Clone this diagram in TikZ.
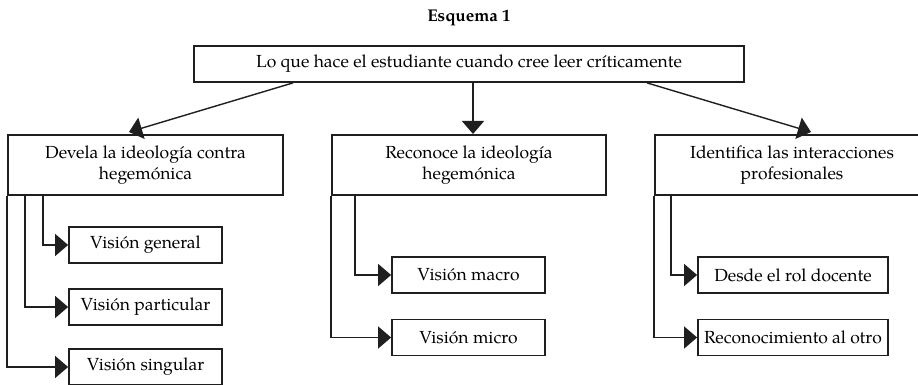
\documentclass[tikz,border=0pt]{standalone}
\usepackage{fontspec}
\setmainfont{TeX Gyre Pagella}
\usetikzlibrary{arrows.meta}
\begin{document}
\begin{tikzpicture}[x=1pt,y=-1pt,
  box/.style={draw=black!88, line width=1.8pt, inner sep=0pt, align=center, font=\fontsize{17.5}{21}\selectfont},
  conn/.style={draw=black!88, line width=1.4pt, -{Triangle[length=13pt,width=22pt]}},
]
\useasboundingbox (0,0) rectangle (918,385);
\clip (0,0) rectangle (918,385);
\fill[white] (0,0) rectangle (918,385);

\node[font=\bfseries\fontsize{17}{20}\selectfont] (title) at (469,18) {Esquema 1};
\node[box, minimum width=550pt, minimum height=36pt] (top) at (469,64) {Lo que hace el estudiante cuando cree leer críticamente};

\node[box, minimum width=275pt, minimum height=60pt] (L) at (145.5,165) {Devela la ideología contra\\hegemónica};
\node[box, minimum width=274pt, minimum height=60pt] (M) at (469,165) {Reconoce la ideología\\hegemónica};
\node[box, minimum width=274pt, minimum height=60pt] (R) at (792,165) {Identifica las interacciones\\profesionales};

\node[box, minimum width=153pt, minimum height=36pt] (l1) at (145.5,245) {Visión general};
\node[box, minimum width=153pt, minimum height=36pt] (l2) at (145.5,307) {Visión particular};
\node[box, minimum width=153pt, minimum height=36pt] (l3) at (145.5,367) {Visión singular};

\node[box, minimum width=153pt, minimum height=36pt] (m1) at (468.5,275) {Visión macro};
\node[box, minimum width=153pt, minimum height=36pt] (m2) at (468.5,337.5) {Visión micro};

\node[box, minimum width=190pt, minimum height=36pt] (r1) at (793,275) {Desde el rol docente};
\node[box, minimum width=190pt, minimum height=36pt] (r2) at (793,337.5) {Reconocimiento al otro};

\coordinate (lt) at (129,132);
\coordinate (mt) at (473,134);
\coordinate (rt) at (811,132);
\draw[conn] ([xshift=-176pt]top.south) -- (lt);
\draw[conn] ([xshift=4pt]top.south) -- (mt);
\draw[conn] ([xshift=178pt]top.south) -- (rt);

\draw[conn] ([xshift=36pt]L.south west) |- (l1.west);
\draw[conn] ([xshift=18pt]L.south west) |- (l2.west);
\draw[conn] (L.south west) |- (l3.west);

\draw[conn] ([xshift=24pt]M.south west) |- (m1.west);
\draw[conn] (M.south west) |- (m2.west);

\draw[conn] ([xshift=17pt]R.south west) |- (r1.west);
\draw[conn] (R.south west) |- (r2.west);
\end{tikzpicture}
\end{document}
